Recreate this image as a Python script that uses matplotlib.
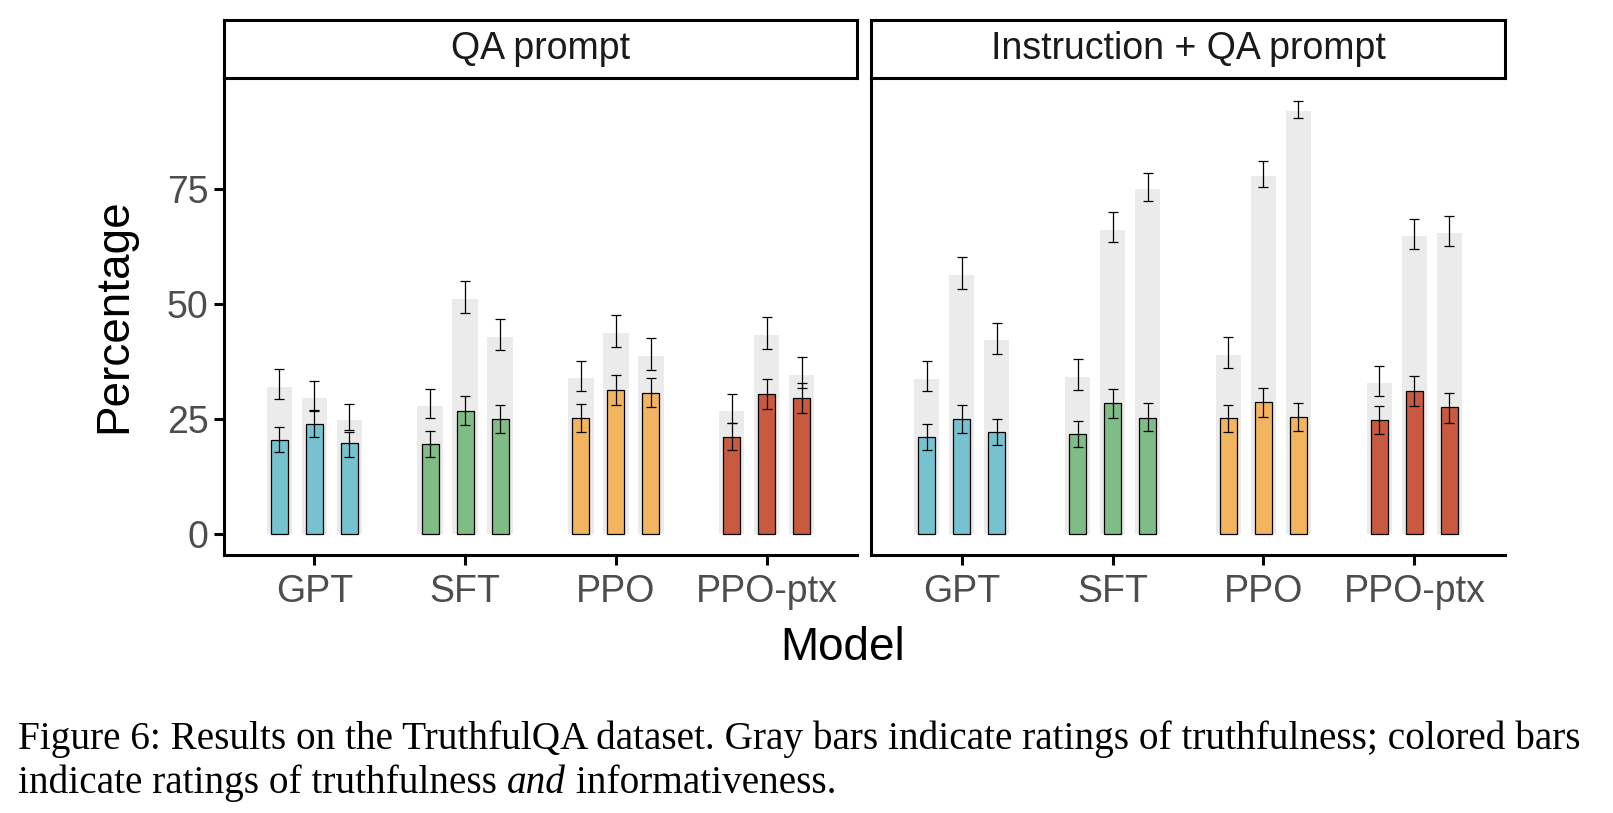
import numpy as np
import matplotlib.pyplot as plt

plt.rcParams['font.family'] = ['Liberation Sans', 'DejaVu Sans']

models = ["GPT", "SFT", "PPO", "PPO-ptx"]
prompts = ["QA prompt", "Instruction + QA prompt"]
colors = ["#76C3CF", "#80BC86", "#F3B45F", "#C95A40"]

# three model sizes per model, in order GPT x3, SFT x3, PPO x3, PPO-ptx x3
# gray bars: truthful
qa_true = [32.0, 29.6, 24.8, 27.8, 51.1, 42.8, 33.9, 43.7, 38.7, 26.7, 43.3, 34.6]
qa_true_lo = [29.3, 26.9, 22.5, 25.1, 48.0, 39.9, 31.0, 40.6, 35.6, 24.1, 40.1, 31.7]
qa_true_hi = [35.8, 33.2, 28.3, 31.4, 54.9, 46.7, 37.5, 47.5, 42.5, 30.4, 47.1, 38.4]
# colored bars: truthful and informative
qa_info = [20.4, 23.8, 19.7, 19.5, 26.7, 24.9, 25.1, 31.2, 30.6, 21.0, 30.4, 29.5]
qa_info_lo = [17.8, 21.0, 16.8, 16.7, 23.6, 21.9, 22.1, 28.0, 27.5, 18.2, 27.1, 26.2]
qa_info_hi = [23.2, 26.6, 22.1, 22.3, 29.9, 28.0, 28.2, 34.5, 33.9, 24.1, 33.6, 32.8]

iqa_true = [33.7, 56.3, 42.2, 34.1, 66.1, 75.0, 38.9, 77.8, 92.0, 32.8, 64.8, 65.4]
iqa_true_lo = [31.0, 53.2, 39.1, 31.2, 63.4, 72.3, 36.0, 75.4, 90.4, 29.9, 61.9, 62.6]
iqa_true_hi = [37.5, 60.2, 45.8, 38.0, 69.9, 78.4, 42.8, 81.0, 94.1, 36.5, 68.4, 69.0]
iqa_info = [21.0, 24.9, 22.1, 21.7, 28.4, 25.1, 25.1, 28.6, 25.4, 24.7, 31.0, 27.5]
iqa_info_lo = [18.2, 21.9, 19.3, 18.8, 25.1, 22.3, 22.1, 25.4, 22.3, 21.7, 27.8, 24.1]
iqa_info_hi = [23.8, 28.0, 24.9, 24.5, 31.4, 28.4, 28.0, 31.7, 28.4, 27.8, 34.3, 30.6]

panels = [
    (qa_true, qa_true_lo, qa_true_hi, qa_info, qa_info_lo, qa_info_hi),
    (iqa_true, iqa_true_lo, iqa_true_hi, iqa_info, iqa_info_lo, iqa_info_hi),
]

W, H = 1613, 813
fig = plt.figure(figsize=(W / 100, H / 100), dpi=100)

panel_x = [(224, 857), (871, 1505)]
top, bottom = 78, 555
strip_top = 20

offsets = np.array([-0.232, 0.0, 0.232])
xpos = np.concatenate([i + 1 + offsets for i in range(len(models))])
bar_colors = [c for c in colors for _ in range(3)]

for k, (x0, x1) in enumerate(panel_x):
    ax = fig.add_axes([x0 / W, 1 - bottom / H, (x1 - x0) / W, (bottom - top) / H])
    tr, tlo, thi, inf, ilo, ihi = [np.array(a) for a in panels[k]]

    ax.bar(xpos, tr, width=0.17, color="#EBEBEB", zorder=1)
    ax.errorbar(xpos, tr, yerr=[tr - tlo, thi - tr], fmt='none', ecolor='black',
                elinewidth=0.9, capsize=3.3, capthick=0.9, zorder=2)
    ax.bar(xpos, inf, width=0.113, color=bar_colors, edgecolor='black',
           linewidth=0.9, zorder=3)
    ax.errorbar(xpos, inf, yerr=[inf - ilo, ihi - inf], fmt='none', ecolor='black',
                elinewidth=0.9, capsize=3.3, capthick=0.9, zorder=4)

    ax.set_xlim(0.4, 4.6)
    ax.set_ylim(-4.6, 99.1)
    ax.set_xticks(range(1, len(models) + 1))
    ax.set_xticklabels(models)
    ax.set_yticks([0, 25, 50, 75])
    for s in ['top', 'right']:
        ax.spines[s].set_visible(False)
    for s in ['left', 'bottom']:
        ax.spines[s].set_linewidth(2.2)
    ax.tick_params(axis='both', length=7, width=2.2, labelsize=27,
                   labelcolor='#4D4D4D', pad=4)
    ax.tick_params(axis='x', pad=7)
    if k == 1:
        ax.tick_params(axis='y', left=False, labelleft=False)

    sax = fig.add_axes([x0 / W, 1 - top / H, (x1 - x0) / W, (top - strip_top) / H])
    sax.set_xticks([])
    sax.set_yticks([])
    for s in sax.spines.values():
        s.set_linewidth(2.2)
    sax.text(0.5, 0.5, prompts[k], ha='center', va='center', fontsize=27,
             color='#1A1A1A', transform=sax.transAxes)

fig.text(114 / W, 1 - 316 / H, "Percentage", rotation=90, ha='center', va='center',
         fontsize=33)
fig.text(843 / W, 1 - 648 / H, "Model", ha='center', va='center', fontsize=33)

# caption
cap_font = dict(family='Liberation Serif', fontsize=28.3)
fig.text(18.5 / W, 1 - 749 / H,
         "Figure 6: Results on the TruthfulQA dataset. Gray bars indicate ratings of "
         "truthfulness; colored bars", ha='left', va='baseline', **cap_font)
renderer = fig.canvas.get_renderer()
x = 18.5 / W
y2 = 1 - 793 / H
for piece, style in [("indicate ratings of truthfulness ", 'normal'), ("and", 'italic'),
                     (" informativeness.", 'normal')]:
    t = fig.text(x, y2, piece, ha='left', va='baseline', style=style, **cap_font)
    bb = t.get_window_extent(renderer=renderer)
    x += bb.width / W

fig.savefig("out.png", dpi=100)
